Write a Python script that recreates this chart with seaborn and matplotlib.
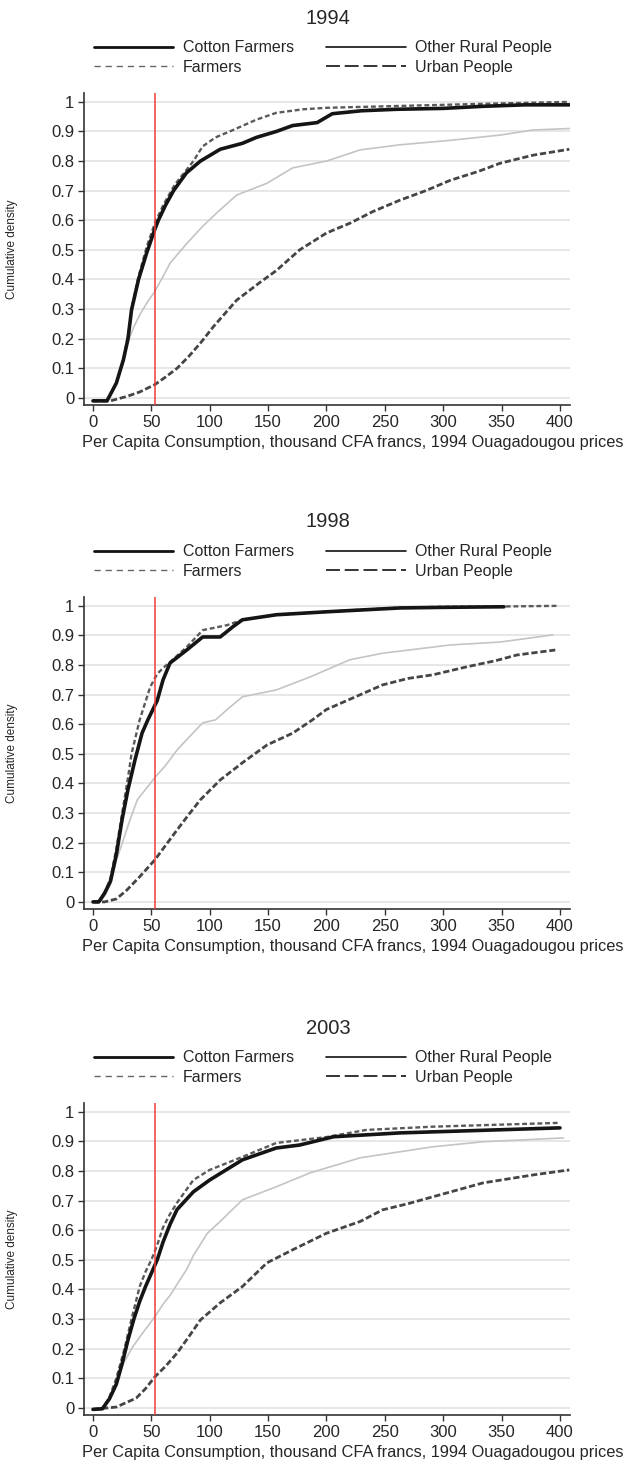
import matplotlib
matplotlib.use("Agg")
import matplotlib.pyplot as plt
from matplotlib.lines import Line2D
import pandas as pd
import seaborn as sns

sns.set_style("white")
plt.rcParams["font.family"] = ["Liberation Sans", "DejaVu Sans"]
plt.rcParams["lines.scale_dashes"] = False

# ---- data: cumulative share of people below each consumption level ----
years = ["1994", "1998", "2003"]
groups = ["Cotton Farmers", "Farmers", "Other Rural People", "Urban People"]
poverty_line = 53

cotton94_x = [0, 12, 20, 26, 30, 33, 39, 46, 53, 56, 62, 69, 80, 92, 109, 128, 140, 157, 171, 192, 205, 230, 260, 300, 334, 370, 408]
cotton94_y = [-0.01, -0.01, 0.05, 0.128, 0.2, 0.297, 0.4, 0.49, 0.57, 0.6, 0.65, 0.7, 0.76, 0.8, 0.84, 0.86, 0.88, 0.9, 0.92, 0.93, 0.96, 0.97, 0.975, 0.978, 0.985, 0.99, 0.99]
farmers94_x = [0, 12, 20, 26, 30, 33, 39, 46, 53, 60, 70, 80, 86, 94, 105, 120, 140, 157, 180, 200, 250, 300, 350, 408]
farmers94_y = [-0.01, -0.01, 0.05, 0.13, 0.21, 0.3, 0.41, 0.51, 0.59, 0.65, 0.72, 0.77, 0.8, 0.85, 0.88, 0.905, 0.94, 0.963, 0.975, 0.98, 0.985, 0.99, 0.995, 1.0]
rural94_x = [0, 12, 20, 26, 30, 35, 40, 46, 53, 60, 66, 80, 94, 106, 123, 149, 171, 200, 229, 263, 306, 349, 377, 408]
rural94_y = [-0.01, -0.01, 0.05, 0.13, 0.19, 0.24, 0.28, 0.32, 0.36, 0.41, 0.455, 0.52, 0.58, 0.625, 0.685, 0.725, 0.777, 0.8, 0.838, 0.855, 0.87, 0.888, 0.905, 0.91]
urban94_x = [0, 15, 29, 40, 53, 62, 72, 82, 92, 103, 113, 123, 143, 157, 177, 200, 220, 240, 263, 285, 306, 330, 349, 377, 408]
urban94_y = [-0.01, -0.01, 0.005, 0.02, 0.045, 0.07, 0.10, 0.14, 0.185, 0.24, 0.285, 0.33, 0.39, 0.43, 0.5, 0.557, 0.59, 0.63, 0.668, 0.70, 0.735, 0.765, 0.793, 0.82, 0.84]

cotton98_x = [0, 5, 10, 15, 20, 25, 30, 36, 42, 47, 55, 60, 66, 80, 94, 109, 120, 128, 157, 200, 229, 263, 300, 352]
cotton98_y = [0.0, 0.0, 0.03, 0.07, 0.16, 0.28, 0.38, 0.48, 0.57, 0.615, 0.68, 0.75, 0.807, 0.85, 0.895, 0.895, 0.93, 0.953, 0.97, 0.98, 0.986, 0.993, 0.995, 0.997]
farmers98_x = [0, 5, 10, 15, 20, 25, 30, 33, 40, 49, 55, 60, 66, 80, 94, 115, 128, 157, 200, 229, 263, 300, 350, 397]
farmers98_y = [0.0, 0.0, 0.03, 0.08, 0.18, 0.30, 0.42, 0.50, 0.615, 0.726, 0.77, 0.79, 0.81, 0.86, 0.918, 0.935, 0.953, 0.97, 0.98, 0.987, 0.994, 0.997, 0.998, 1.0]
rural98_x = [0, 5, 10, 15, 20, 26, 32, 38, 45, 53, 62, 72, 80, 94, 105, 115, 128, 157, 186, 220, 248, 306, 349, 394]
rural98_y = [0.0, 0.0, 0.02, 0.06, 0.14, 0.21, 0.28, 0.345, 0.38, 0.42, 0.46, 0.513, 0.547, 0.605, 0.615, 0.65, 0.693, 0.716, 0.76, 0.818, 0.84, 0.868, 0.878, 0.902]
urban98_x = [0, 10, 20, 29, 40, 53, 62, 72, 82, 92, 109, 128, 149, 171, 188, 200, 229, 248, 270, 291, 320, 345, 363, 396]
urban98_y = [0.0, 0.0, 0.01, 0.04, 0.085, 0.142, 0.19, 0.243, 0.295, 0.345, 0.412, 0.47, 0.53, 0.57, 0.615, 0.65, 0.70, 0.733, 0.755, 0.767, 0.794, 0.815, 0.834, 0.851]

cotton03_x = [0, 8, 14, 20, 25, 30, 35, 40, 45, 50, 55, 60, 66, 72, 86, 100, 128, 157, 177, 206, 263, 320, 400]
cotton03_y = [-0.005, -0.003, 0.03, 0.08, 0.15, 0.23, 0.3, 0.36, 0.41, 0.455, 0.5, 0.56, 0.62, 0.67, 0.73, 0.77, 0.838, 0.878, 0.888, 0.916, 0.929, 0.936, 0.946]
farmers03_x = [0, 8, 14, 20, 27, 33, 40, 45, 50, 55, 60, 66, 72, 86, 100, 128, 157, 200, 234, 291, 350, 400]
farmers03_y = [-0.005, -0.003, 0.035, 0.1, 0.2, 0.3, 0.41, 0.46, 0.5, 0.55, 0.61, 0.655, 0.693, 0.77, 0.804, 0.848, 0.895, 0.915, 0.939, 0.95, 0.957, 0.963]
rural03_x = [0, 8, 14, 20, 26, 34, 42, 53, 60, 66, 74, 80, 86, 98, 109, 128, 157, 186, 229, 291, 334, 403]
rural03_y = [-0.005, -0.003, 0.03, 0.09, 0.15, 0.206, 0.25, 0.308, 0.35, 0.38, 0.43, 0.466, 0.515, 0.59, 0.63, 0.703, 0.747, 0.794, 0.845, 0.882, 0.899, 0.912]
urban03_x = [0, 20, 37, 45, 53, 62, 72, 82, 92, 109, 128, 149, 171, 200, 229, 248, 270, 291, 334, 377, 408]
urban03_y = [-0.005, 0.003, 0.033, 0.065, 0.105, 0.14, 0.185, 0.24, 0.297, 0.355, 0.41, 0.49, 0.534, 0.59, 0.63, 0.669, 0.69, 0.713, 0.76, 0.787, 0.804]

x_ticks = [0, 50, 100, 150, 200, 250, 300, 350, 400]
y_ticks = [0, 0.1, 0.2, 0.3, 0.4, 0.5, 0.6, 0.7, 0.8, 0.9, 1]
y_tick_labels = ["0", "0.1", "0.2", "0.3", "0.4", "0.5", "0.6", "0.7", "0.8", "0.9", "1"]
x_label = "Per Capita Consumption, thousand CFA francs, 1994 Ouagadougou prices"
y_label = "Cumulative density"

series = {
    "1994": [(cotton94_x, cotton94_y), (farmers94_x, farmers94_y), (rural94_x, rural94_y), (urban94_x, urban94_y)],
    "1998": [(cotton98_x, cotton98_y), (farmers98_x, farmers98_y), (rural98_x, rural98_y), (urban98_x, urban98_y)],
    "2003": [(cotton03_x, cotton03_y), (farmers03_x, farmers03_y), (rural03_x, rural03_y), (urban03_x, urban03_y)],
}

# ---- styles ----
line_styles = {
    "Cotton Farmers": dict(color="#151515", linewidth=2.6, linestyle="-"),
    "Farmers": dict(color="#5a5a5a", linewidth=1.7, linestyle=(0, (3.5, 2.0))),
    "Other Rural People": dict(color="#c4c4c4", linewidth=1.2, linestyle="-"),
    "Urban People": dict(color="#454545", linewidth=2.0, linestyle=(0, (4.5, 2.0))),
}
legend_handles = [
    Line2D([], [], color="#111111", lw=2.0, ls="-"),
    Line2D([], [], color="#666666", lw=1.0, ls=(0, (4.5, 3.5))),
    Line2D([], [], color="#111111", lw=1.2, ls="-"),
    Line2D([], [], color="#111111", lw=1.2, ls=(0, (10, 3.5))),
]

W, H = 626, 1466
fig = plt.figure(figsize=(W / 100, H / 100), dpi=100)


def add_px_axes(left, top, right, bottom):
    return fig.add_axes([left / W, 1 - bottom / H, (right - left) / W, (bottom - top) / H])


panel_offsets = [0, 504, 1010]
ax_left, ax_right, ax_top, ax_bottom = 84, 570, 93, 405
ax_w, ax_h = ax_right - ax_left, ax_bottom - ax_top

for year, off in zip(years, panel_offsets):
    ax = add_px_axes(ax_left, ax_top + off, ax_right, ax_bottom + off)
    rows = []
    for g, (xs, ys) in zip(groups, series[year]):
        rows += [{"group": g, "consumption": a, "cdf": b} for a, b in zip(xs, ys)]
    df = pd.DataFrame(rows)

    for y in y_ticks:
        ax.axhline(y, color="#e3e3e3", lw=1.2, zorder=0)

    for g in ["Other Rural People", "Urban People", "Farmers", "Cotton Farmers"]:
        sub = df[df["group"] == g]
        sns.lineplot(data=sub, x="consumption", y="cdf", ax=ax, sort=False,
                     estimator=None, zorder=3, **line_styles[g])

    ax.axvline(poverty_line, color="#f03c3c", lw=1.1, zorder=4)

    ax.set_xlim(-7.7, 408.6)
    ax.set_ylim(-0.024, 1.03)
    ax.set_xticks(x_ticks)
    ax.set_yticks(y_ticks)
    ax.set_yticklabels(y_tick_labels)
    ax.tick_params(axis="both", which="major", direction="out", length=4.5, width=1.0,
                   color="#333333", labelsize=12, pad=2.5, left=True, bottom=True)
    for side in ["top", "right"]:
        ax.spines[side].set_visible(False)
    for side in ["left", "bottom"]:
        ax.spines[side].set_color("#333333")
        ax.spines[side].set_linewidth(1.2)
    ax.grid(False)
    ax.set_xlabel("")
    ax.set_ylabel("")

    ax.text((353 - ax_left) / ax_w, -(443 - ax_bottom) / ax_h, x_label,
            transform=ax.transAxes, ha="center", va="center", fontsize=11.8)
    ax.text((12 - ax_left) / ax_w, 0.5, y_label, transform=ax.transAxes,
            ha="center", va="center", rotation=90, fontsize=8.5)
    ax.text((328 - ax_left) / ax_w, 1 + (ax_top - 18) / ax_h, year,
            transform=ax.transAxes, ha="center", va="center", fontsize=14.5)

    ax.legend(legend_handles, groups, ncol=2, loc="center",
              bbox_to_anchor=((323 - ax_left) / ax_w, 1 + (ax_top - 57.5) / ax_h),
              frameon=False, fontsize=11.5, handlelength=5.0, handletextpad=0.6,
              columnspacing=2.0, labelspacing=0.3, borderpad=0.0)

fig.savefig("out.png", dpi=100)
